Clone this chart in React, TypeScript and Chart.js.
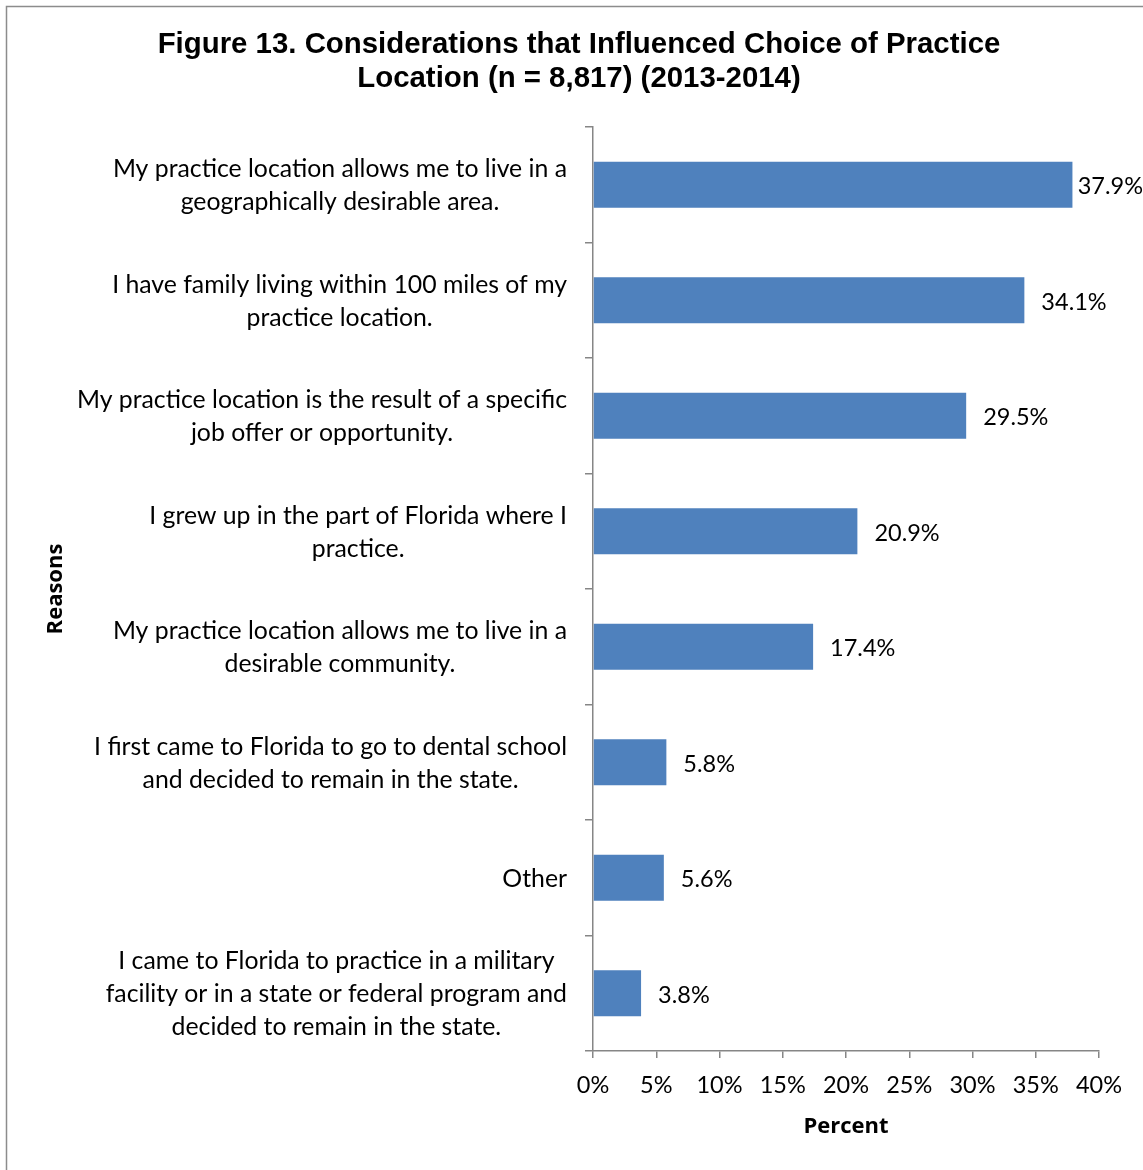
import React, { useEffect, useRef } from "react";
import { Chart, registerables } from "chart.js";

Chart.register(...registerables);

const titleLines = [
  "Figure 13. Considerations that Influenced Choice of Practice",
  "Location (n = 8,817) (2013-2014)",
];

const categories: string[][] = [
  ["My practice location allows me to live in a", "geographically desirable area."],
  ["I have family living within 100 miles of my", "practice location."],
  ["My practice location is the result of a specific", "job offer or opportunity."],
  ["I grew up in the part of Florida where I", "practice."],
  ["My practice location allows me to live in a", "desirable community."],
  ["I first came to Florida to go to dental school", "and decided to remain in the state."],
  ["Other"],
  ["I came to Florida to practice in a military", "facility or in a state or federal program and", "decided to remain in the state."],
];

const values = [37.9, 34.1, 29.5, 20.9, 17.4, 5.8, 5.6, 3.8];

const xTicks = [0, 5, 10, 15, 20, 25, 30, 35, 40];

const LABEL_FONT = "Lato";
const LABEL_SIZE = 24.8;
const NUM_SIZE = 23.5;
const AXIS_GRAY = "#868686";

const decorPlugin = {
  id: "decor",
  beforeDraw(chart: any) {
    const ctx = chart.ctx;
    ctx.save();
    ctx.fillStyle = "#ffffff";
    ctx.fillRect(0, 0, chart.width, chart.height);
    ctx.strokeStyle = "#8c8c8c";
    ctx.lineWidth = 1.5;
    ctx.strokeRect(6.5, 6.5, chart.width + 20, chart.height + 20);
    ctx.restore();
  },
  afterDraw(chart: any) {
    const ctx = chart.ctx;
    const yScale = chart.scales.y;
    const xScale = chart.scales.x;
    ctx.save();
    // title
    ctx.fillStyle = "#000000";
    ctx.font = "bold 29.4px 'Liberation Sans', Arial, sans-serif";
    ctx.textAlign = "center";
    ctx.textBaseline = "middle";
    ctx.fillText(titleLines[0], 579, 45);
    ctx.fillText(titleLines[1], 579, 79);

    // category labels
    ctx.font = `${LABEL_SIZE}px ${LABEL_FONT}`;
    const lineH = 33;
    const rightEdge = yScale.right - 26;
    categories.forEach((lines, i) => {
      const cy = yScale.getPixelForValue(i) + 1;
      const w = Math.max(...lines.map((l) => ctx.measureText(l).width));
      const cx = rightEdge - w / 2;
      const startY = cy - ((lines.length - 1) * lineH) / 2;
      lines.forEach((l, j) => {
        ctx.fillText(l, cx, startY + j * lineH);
      });
    });

    // value labels
    ctx.font = `${NUM_SIZE}px ${LABEL_FONT}`;
    ctx.textAlign = "left";
    const meta = chart.getDatasetMeta(0);
    meta.data.forEach((bar: any, i: number) => {
      const txt = values[i].toFixed(1) + "%";
      const tw = ctx.measureText(txt).width;
      const x = Math.min(xScale.getPixelForValue(values[i]) + 17, chart.width - tw);
      ctx.fillText(txt, x, bar.y + 2);
    });
    ctx.restore();
  },
};

export default function App() {
  const ref = useRef<HTMLCanvasElement | null>(null);
  useEffect(() => {
    if (!ref.current) return;
    const chart = new Chart(ref.current, {
      type: "bar",
      data: {
        labels: categories.map((c) => c.join(" ")),
        datasets: [
          {
            data: values,
            backgroundColor: "#4F81BD",
            borderWidth: 0,
            categoryPercentage: 1,
            barPercentage: 0.4,
          },
        ],
      },
      options: {
        indexAxis: "y",
        animation: false,
        responsive: false,
        maintainAspectRatio: false,
        layout: { padding: { left: 40, top: 127, right: 44, bottom: 0 } },
        plugins: {
          legend: { display: false },
          title: { display: false },
          tooltip: { enabled: false },
        },
        scales: {
          y: {
            type: "category",
            offset: true,
            grid: {
              offset: true,
              drawOnChartArea: false,
              drawTicks: true,
              tickLength: 8,
              color: AXIS_GRAY,
              lineWidth: 1.5,
            },
            border: { display: true, color: AXIS_GRAY, width: 1.5 },
            ticks: { display: false },
            title: {
              display: true,
              text: "Reasons",
              color: "#000",
              font: { family: "'Open Sans', sans-serif", size: 22, weight: "bold" },
              padding: { top: 3, bottom: 4 },
            },
            afterFit(scale: any) {
              scale.width = 553;
            },
          },
          x: {
            type: "linear",
            min: 0,
            max: 40,
            afterBuildTicks(scale: any) {
              scale.ticks = xTicks.map((v) => ({ value: v }));
            },
            grid: {
              drawOnChartArea: false,
              drawTicks: true,
              tickLength: 7,
              color: AXIS_GRAY,
              lineWidth: 1.5,
            },
            border: { display: true, color: AXIS_GRAY, width: 1.5 },
            ticks: {
              color: "#000",
              font: { family: LABEL_FONT, size: NUM_SIZE },
              padding: 13,
              maxRotation: 0,
              callback: (v: any) => v + "%",
            },
            title: {
              display: true,
              text: "Percent",
              color: "#000",
              font: { family: "'Open Sans', sans-serif", size: 22, weight: "bold" },
              padding: { top: 4, bottom: 30 },
            },
            afterFit(scale: any) {
              scale.height = 119;
            },
          },
        },
      },
      plugins: [decorPlugin],
    } as any);
    return () => chart.destroy();
  }, []);
  return (
    <div style={{ width: 1143, height: 1170 }}>
      <style>{`body{margin:0;}`}</style>
      <canvas ref={ref} width={1143} height={1170} style={{ display: "block", width: 1143, height: 1170 }} />
    </div>
  );
}
